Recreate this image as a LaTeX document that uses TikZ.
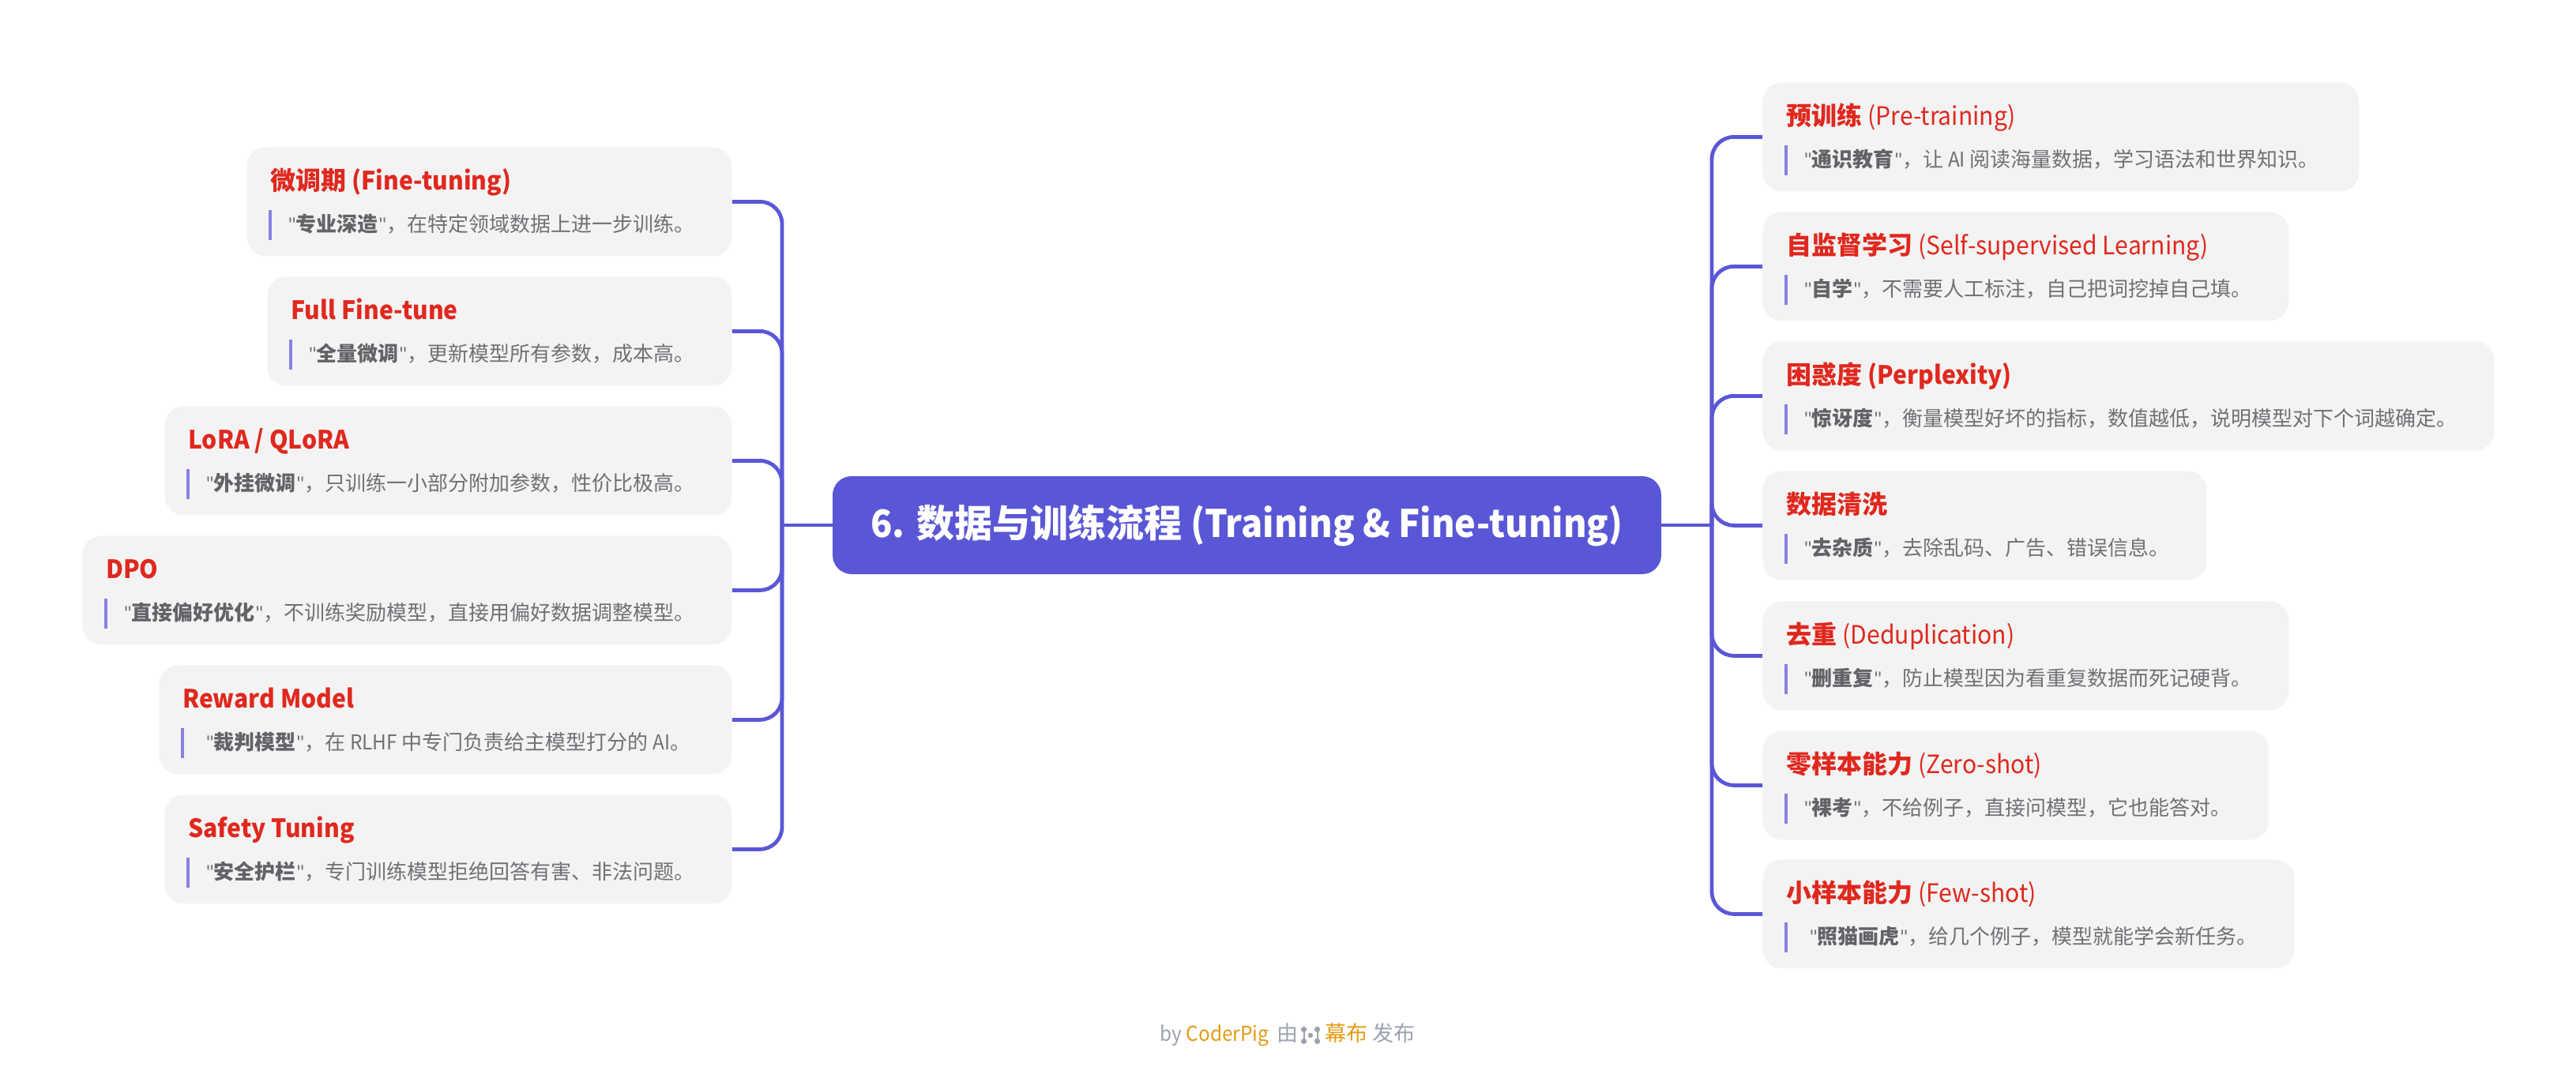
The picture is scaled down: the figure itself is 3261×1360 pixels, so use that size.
\documentclass[tikz,border=0pt]{standalone}
\usepackage{fontspec}
\setmainfont{Noto Sans CJK SC}
\newfontfamily\latf[FakeStretch=0.94]{Noto Sans CJK SC}
\newfontfamily\quotef{Carlito}
\usetikzlibrary{calc,positioning}
\definecolor{rootV}{RGB}{90,87,214}
\definecolor{barV}{RGB}{133,131,226}
\definecolor{cardV}{RGB}{243,243,243}
\definecolor{headV}{RGB}{224,40,30}
\definecolor{bodyV}{RGB}{112,112,118}
\definecolor{termV}{RGB}{98,98,104}
\definecolor{footV}{RGB}{156,163,175}
\definecolor{pigV}{RGB}{227,155,20}
\tikzset{
  cardbox/.style={fill=cardV,rounded corners=12pt,inner sep=0pt,anchor=north west},
  headtext/.style={anchor=base west,inner sep=0pt,text=headV,font=\fontsize{16pt}{20pt}\selectfont},
  bodytext/.style={anchor=base west,inner sep=0pt,text=bodyV,font=\fontsize{13pt}{16pt}\selectfont},
  branch/.style={rootV,line width=2.4pt,rounded corners=14pt},
  footnode/.style={inner sep=0pt,anchor=base west,text=footV,font=\fontsize{13.5pt}{16pt}\selectfont}
}
\newcommand{\lat}[1]{{\latf #1}}
% one card: name, left, top, width, heading, description
\newcommand{\card}[6]{
  \node[cardbox,minimum width=#4*0.5pt,minimum height=69pt] (#1) at (#2,#3) {};
  \node[headtext] (#1h) at ($(#1.north west)+(30,54)$) {#5};
  \node[bodytext] (#1b) at ($(#1.north west)+(52,107)$) {#6};
  \draw[barV,line width=1.6pt] ($(#1.north west)+(30,80)$) -- ($(#1.north west)+(30,118)$);
}
\newcommand{\term}[1]{{\quotef "}\textcolor{termV}{\textbf{#1}}{\quotef "}}
\begin{document}
\begin{tikzpicture}[x=0.5pt,y=-0.5pt]
  \useasboundingbox (0,0) rectangle (3261,1360);
  % centre
  \node[fill=rootV,rounded corners=12pt,minimum width=524.5pt,minimum height=62pt,inner sep=0pt,text=white,
    font=\fontsize{24pt}{30pt}\selectfont\bfseries] (root) at (1578.5,665) {\lat{6.} 数据与训练流程 \lat{(Training \& Fine-tuning)}};
  \coordinate (hubL) at (990,665);
  \coordinate (hubR) at (2167,665);
  % right side
  \card{pre}{2231}{104}{755}{\textbf{预训练} \lat{(Pre-training)}}{\term{通识教育}，让 \lat{AI} 阅读海量数据，学习语法和世界知识。}
  \card{self}{2231}{268}{666}{\textbf{自监督学习} \lat{(Self-supervised Learning)}}{\term{自学}，不需要人工标注，自己把词挖掉自己填。}
  \card{perp}{2231}{432}{926}{\textbf{困惑度 \lat{(Perplexity)}}}{\term{惊讶度}，衡量模型好坏的指标，数值越低，说明模型对下个词越确定。}
  \card{clean}{2231}{596}{562}{\textbf{数据清洗}}{\term{去杂质}，去除乱码、广告、错误信息。}
  \card{dedup}{2231}{761}{666}{\textbf{去重} \lat{(Deduplication)}}{\term{删重复}，防止模型因为看重复数据而死记硬背。}
  \card{zero}{2231}{925}{641}{\textbf{零样本能力} \lat{(Zero-shot)}}{\term{裸考}，不给例子，直接问模型，它也能答对。}
  \card{few}{2231}{1088}{673}{\textbf{小样本能力} \lat{(Few-shot)}}{\hspace*{3.5pt}\term{照猫画虎}，给几个例子，模型就能学会新任务。}
  % left side
  \card{fine}{312}{186}{614}{\textbf{微调期 \lat{(Fine-tuning)}}}{\term{专业深造}，在特定领域数据上进一步训练。}
  \card{full}{338}{350}{588}{\textbf{\lat{Full Fine-tune}}}{\term{全量微调}，更新模型所有参数，成本高。}
  \card{lora}{208}{514}{718}{\textbf{\lat{LoRA / QLoRA}}}{\term{外挂微调}，只训练一小部分附加参数，性价比极高。}
  \card{dpo}{104}{678}{822}{\textbf{\lat{DPO}}}{\term{直接偏好优化}，不训练奖励模型，直接用偏好数据调整模型。}
  \card{reward}{201}{842}{725}{\textbf{\lat{Reward Model}}}{\hspace*{3.5pt}\term{裁判模型}，在 \lat{RLHF} 中专门负责给主模型打分的 \lat{AI}。}
  \card{safe}{208}{1006}{718}{\textbf{\lat{Safety Tuning}}}{\term{安全护栏}，专门训练模型拒绝回答有害、非法问题。}
  % connectors
  \draw[branch] (root.east) -- (hubR);
  \draw[branch] (root.west) -- (hubL);
  \foreach \nm in {pre,self,perp,clean,dedup,zero,few}
    \draw[branch] (hubR) |- (\nm.west);
  \foreach \nm in {fine,full,lora,dpo,reward,safe}
    \draw[branch] (hubL) |- (\nm.east);
  % footer
  \node[footnode,font=\fontsize{13pt}{16pt}\selectfont] (by) at (1468,1318) {\lat{by \textcolor{pigV}{CoderPig}}};
  \node[footnode] (you) at (1616,1318) {由};
  \coordinate (logo) at (1659,1311);
  \fill[footV] ($(logo)+(-8.5,-7.5)$) circle (1.8pt) ($(logo)+(-8.5,7.5)$) circle (1.8pt) ($(logo)+(8.5,-7.5)$) circle (1.8pt)
    ($(logo)+(8.5,7.5)$) circle (1.8pt) (logo) circle (1.6pt);
  \draw[footV,line width=1pt] ($(logo)+(-8.5,-7.5)$) -- ($(logo)+(-8.5,7.5)$) ($(logo)+(8.5,-7.5)$) -- ($(logo)+(8.5,7.5)$);
  \node[footnode] (pub) at (1677,1318) {\textcolor{pigV}{幕布} 发布};
\end{tikzpicture}
\end{document}
